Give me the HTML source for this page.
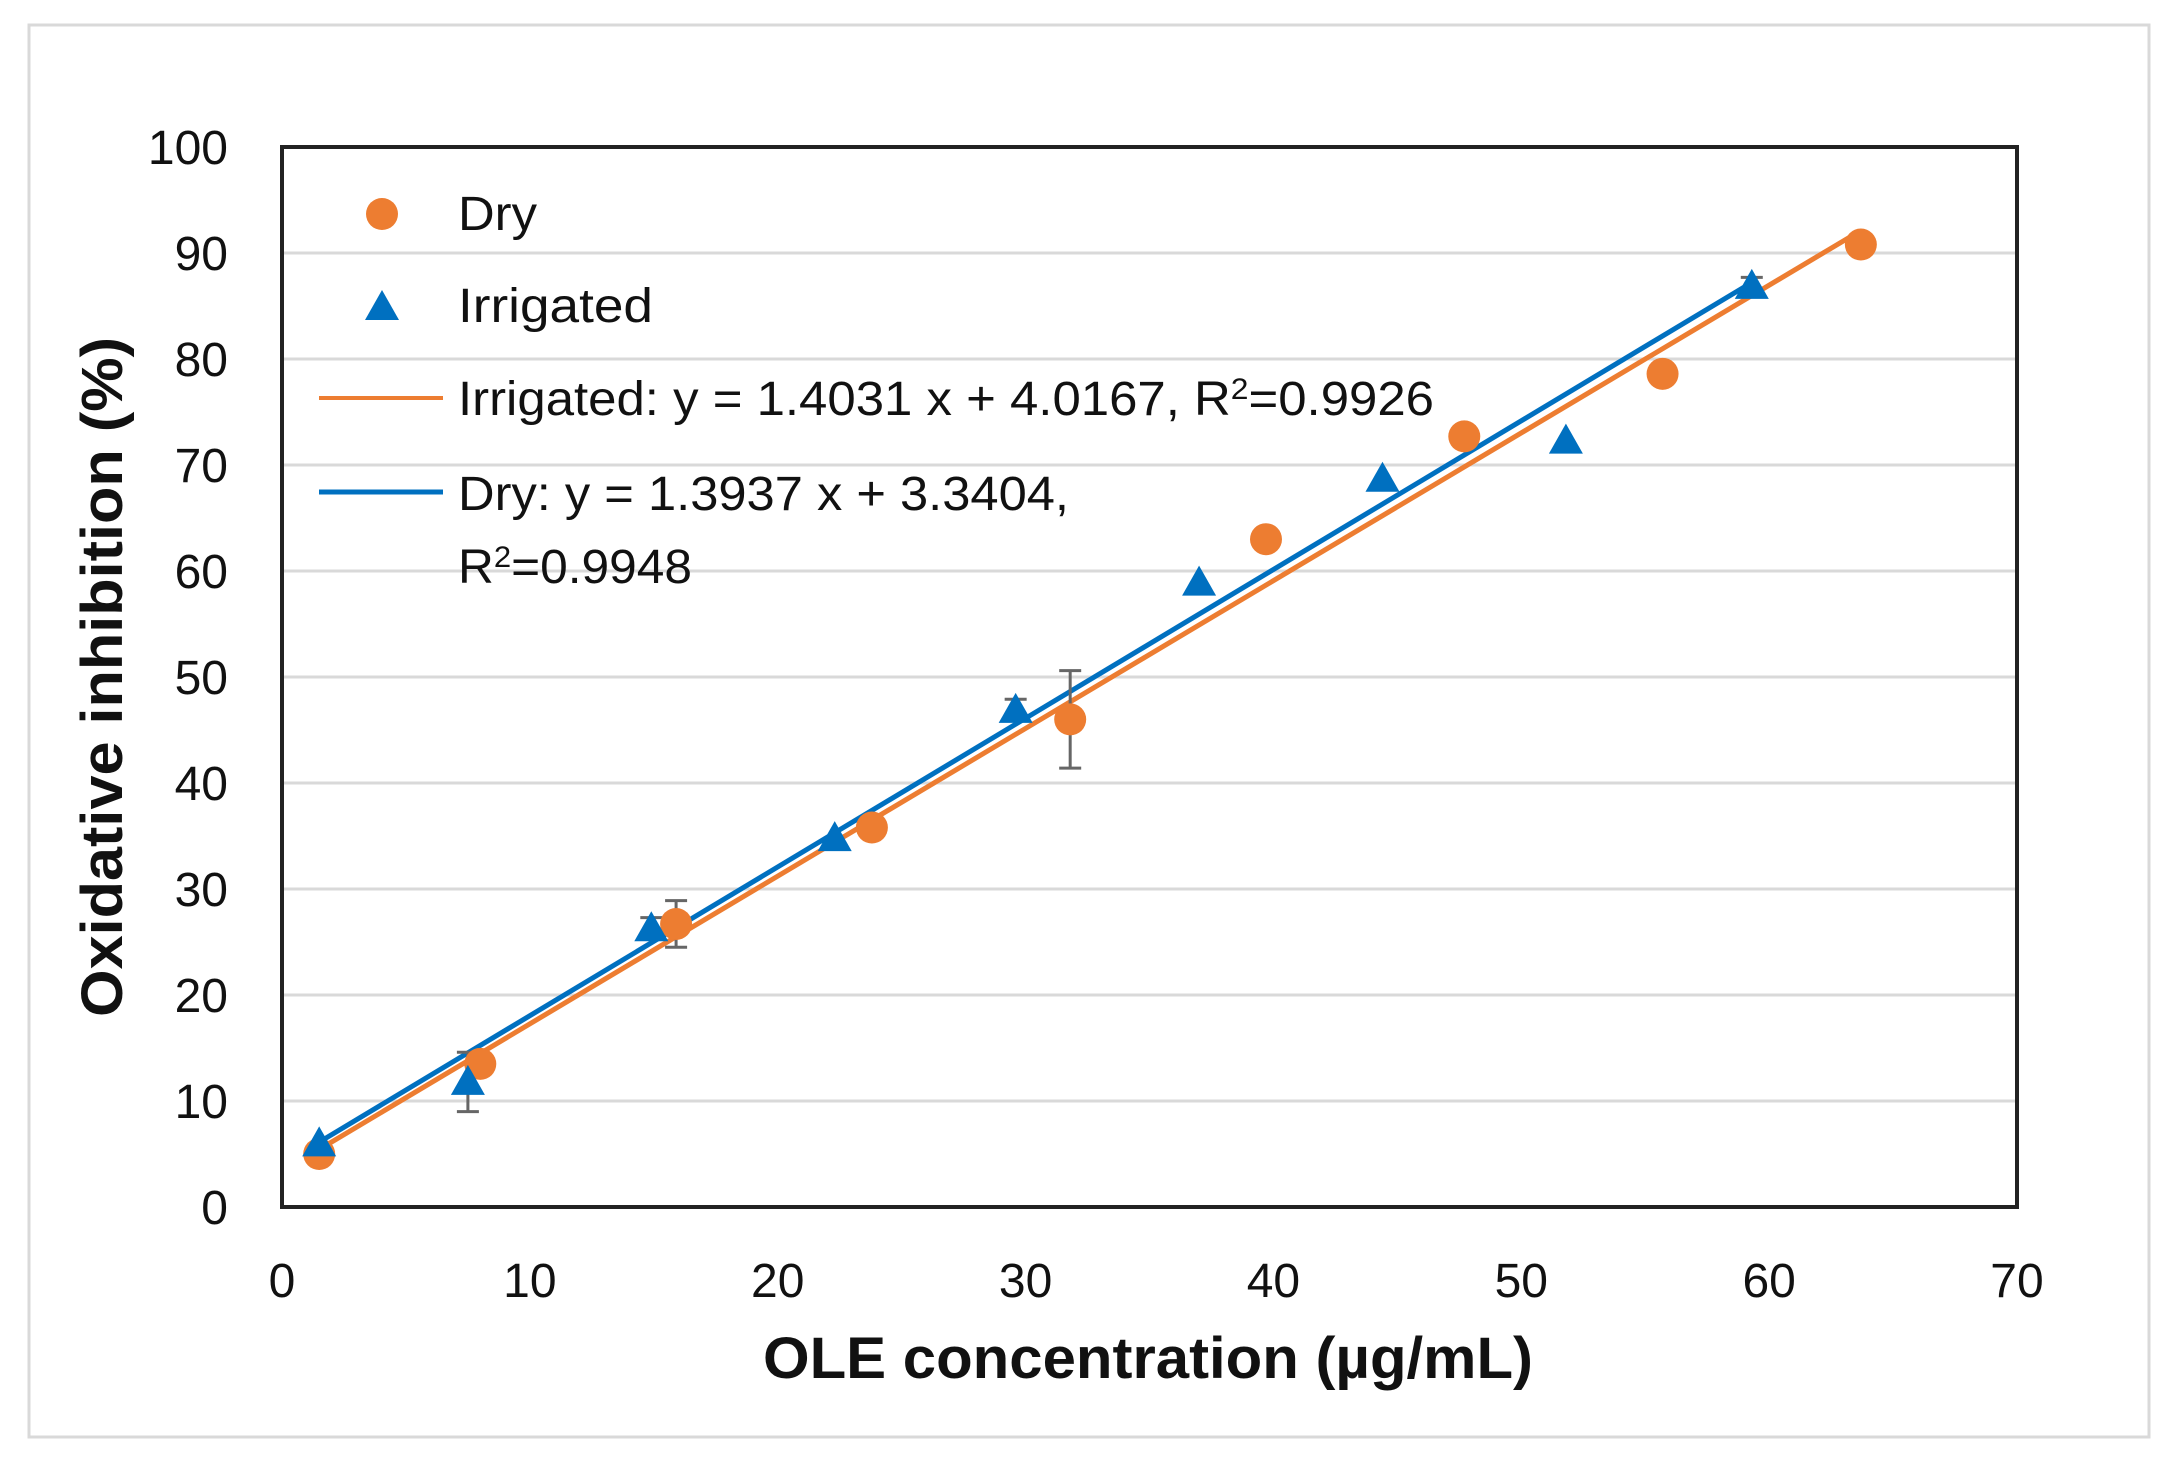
<!DOCTYPE html>
<html><head><meta charset="utf-8"><style>
html,body{margin:0;padding:0;background:#fff;}
svg{display:block;font-family:"Liberation Sans Narrow","Liberation Sans",sans-serif;}
</style></head><body>
<svg id="chart" width="2168" height="1473" viewBox="0 0 2168 1473" xmlns="http://www.w3.org/2000/svg">
<rect x="29" y="25" width="2120" height="1412" fill="#fff" stroke="#d9d9d9" stroke-width="3"/>
<g id="grid"></g>
<g id="fits"></g>
<g id="errs"></g>
<g id="marks"></g>
<rect x="282" y="147" width="1735" height="1060" fill="none" stroke="#222" stroke-width="4"/>
<g id="ticks" font-size="48" fill="#111"></g>
<text x="1148" y="1378" text-anchor="middle" font-size="58" font-weight="bold" fill="#111" textLength="770" lengthAdjust="spacingAndGlyphs">OLE concentration (µg/mL)</text>
<text transform="translate(122,677) rotate(-90)" text-anchor="middle" font-size="58" font-weight="bold" fill="#111" textLength="680" lengthAdjust="spacingAndGlyphs">Oxidative inhibition (%)</text>
<g font-size="48" fill="#111">
  <circle cx="382" cy="214" r="16" fill="#ED7D31"/>
  <text x="458" y="230" textLength="79" lengthAdjust="spacingAndGlyphs">Dry</text>
  <path d="M382,290 L399,320 L365,320 Z" fill="#0070C0"/>
  <text x="458" y="322" textLength="195" lengthAdjust="spacingAndGlyphs">Irrigated</text>
  <line x1="319" y1="398" x2="443" y2="398" stroke="#ED7D31" stroke-width="4"/>
  <text x="458" y="415" textLength="976" lengthAdjust="spacingAndGlyphs">Irrigated: y = 1.4031 x + 4.0167, R<tspan dy="-16" font-size="30">2</tspan><tspan dy="16">=0.9926</tspan></text>
  <line x1="319" y1="492" x2="443" y2="492" stroke="#0070C0" stroke-width="5"/>
  <text x="458" y="510" textLength="611" lengthAdjust="spacingAndGlyphs">Dry: y = 1.3937 x + 3.3404,</text>
  <text x="458" y="583" textLength="234" lengthAdjust="spacingAndGlyphs">R<tspan dy="-16" font-size="30">2</tspan><tspan dy="16">=0.9948</tspan></text>
</g>
</svg>
<script>
const xTicks = [0,10,20,30,40,50,60,70];
const yTicks = [0,10,20,30,40,50,60,70,80,90,100];
const dryX = [1.5, 8, 15.9, 23.8, 31.8, 39.7, 47.7, 55.7, 63.7];
const dryY = [5, 13.5, 26.7, 35.8, 46, 63, 72.7, 78.6, 90.8];
const dryErr = [0, 0, 2.2, 0, 4.6, 0, 0, 0, 0];
const irrX = [1.5, 7.5, 14.9, 22.3, 29.6, 37.0, 44.4, 51.8, 59.3];
const irrY = [6, 11.8, 26.3, 34.8, 46.9, 58.9, 68.7, 72.3, 86.9];
const irrErr = [0, 2.8, 1, 0, 1, 0, 0, 0, 0.8];
const orangeFit = [1.3937, 3.3404];
const orangeRange = [1.3, 63.5];
const blueFit = [1.4031, 4.0167];
const blueRange = [1.3, 59.3];

const X0=282, X1=2017, Y0=1207, Y1=147;
function sx(v){return X0+(v-0)/(70-0)*(X1-X0);}
function sy(v){return Y0-(v-0)/(100-0)*(Y0-Y1);}
const NS="http://www.w3.org/2000/svg";
function mk(tag, parent, attrs){const e=document.createElementNS(NS,tag);for(const k in attrs)e.setAttribute(k,attrs[k]);document.getElementById(parent).appendChild(e);return e;}

yTicks.forEach(t=>{
  if(t>0 && t<100){
    const g=mk('line','grid',{x1:X0,x2:X1,y1:sy(t),y2:sy(t),stroke:'#d9d9d9','stroke-width':3});
    
    
  }
  const l=mk('text','ticks',{x:228,y:sy(t)+17,'text-anchor':'end'});
  l.textContent=t;
  
  
});
xTicks.forEach(t=>{
  const l=mk('text','ticks',{x:sx(t),y:1297,'text-anchor':'middle'});
  l.textContent=t;
  
  
});
const fo=mk('line','fits',{x1:sx(orangeRange[0]),y1:sy(orangeFit[0]*orangeRange[0]+orangeFit[1]),x2:sx(orangeRange[1]),y2:sy(orangeFit[0]*orangeRange[1]+orangeFit[1]),stroke:'#ED7D31','stroke-width':5});


const fb=mk('line','fits',{x1:sx(blueRange[0]),y1:sy(blueFit[0]*blueRange[0]+blueFit[1]),x2:sx(blueRange[1]),y2:sy(blueFit[0]*blueRange[1]+blueFit[1]),stroke:'#0070C0','stroke-width':5});


function err(xs,ys,es,name){
  xs.forEach((x,i)=>{
    if(!es[i])return;
    const cx=sx(x), a=sy(ys[i]-es[i]), b=sy(ys[i]+es[i]);
    const p=mk('path','errs',{d:`M${cx},${a}V${b}M${cx-11},${a}H${cx+11}M${cx-11},${b}H${cx+11}`,stroke:'#666','stroke-width':3,fill:'none'});
    
    
  });
}
err(dryX,dryY,dryErr,'dry');
err(irrX,irrY,irrErr,'irrigated');
dryX.forEach((x,i)=>{
  const c=mk('circle','marks',{cx:sx(x),cy:sy(dryY[i]),r:16,fill:'#ED7D31'});
  
  
});
irrX.forEach((x,i)=>{
  const cx=sx(x), cy=sy(irrY[i]);
  const t=mk('path','marks',{d:`M${cx},${cy-17}L${cx+17},${cy+13}L${cx-17},${cy+13}Z`,fill:'#0070C0'});
  
  
});
</script>
</body></html>
